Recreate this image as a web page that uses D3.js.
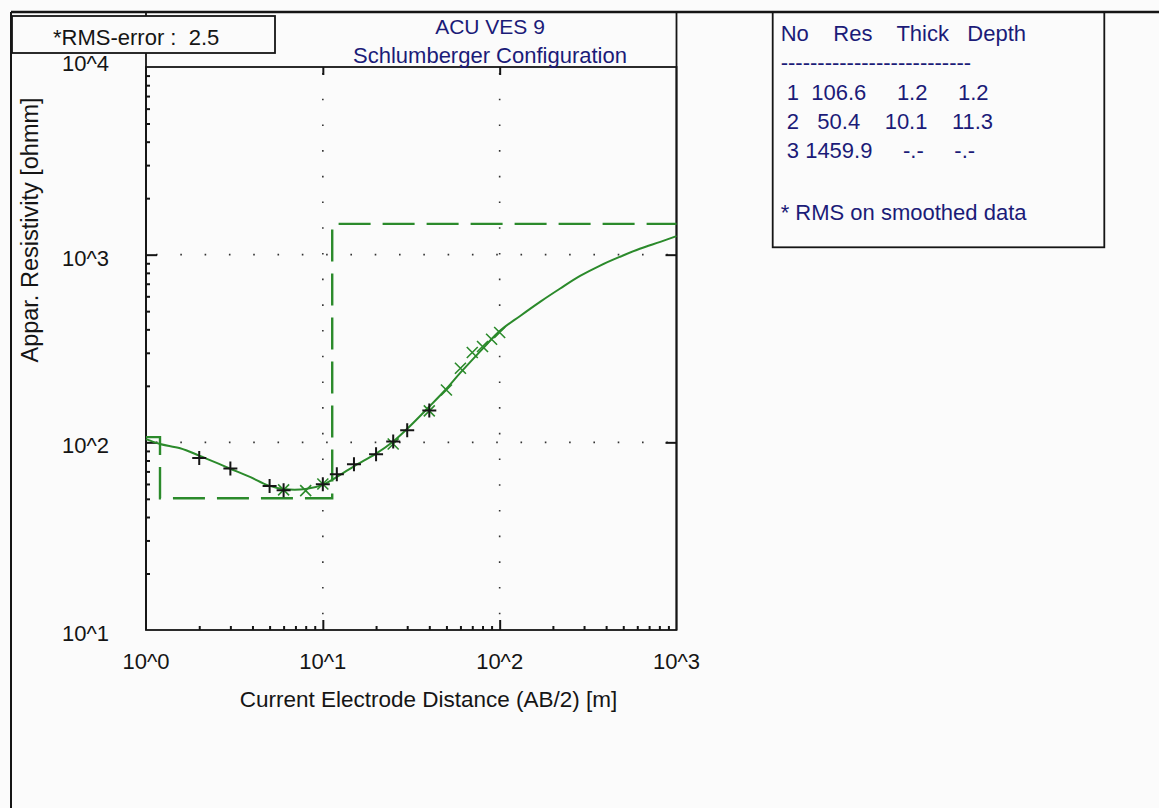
<!DOCTYPE html>
<html>
<head>
<meta charset="utf-8">
<script src="https://cdn.jsdelivr.net/npm/d3@7"></script>
<style>
  html, body { margin: 0; padding: 0; background: #fbfbfb; }
  svg { display: block; font-family: "Liberation Sans", Arial, sans-serif; }
</style>
</head>
<body>
<svg id="chart" width="1159" height="808"></svg>
<script>
// field data: AB/2 [m] and apparent resistivity [ohmm]
const fieldAB = [2, 3, 5, 6, 10, 12, 15, 20, 25, 30, 40];
const fieldRho = [82.4, 72.6, 58.6, 55.6, 59.8, 67.6, 76.5, 86.5, 101, 116, 148];

// smoothed data (green x)
const smoothAB = [6, 8, 10, 25, 40, 50, 60, 70, 80, 90, 100];
const smoothRho = [55.8, 55.3, 60, 98, 147, 190, 248, 301, 324, 354, 385];

// calculated curve
const curveAB = [1, 1.2, 1.56, 2, 2.95, 3.9, 4.9, 6, 8, 10, 11.4, 15, 20, 25, 30, 40, 50, 60, 80, 100, 130, 170, 220, 285, 370, 480, 620, 810, 1000];
const curveRho = [104, 98, 93, 85, 72.8, 65.2, 59, 56.4, 56.4, 59.3, 63.5, 74.5, 87, 101, 118, 155, 193, 235, 315, 392, 470, 562, 660, 770, 875, 975, 1075, 1170, 1255];

// layer model
const layerNo = [1, 2, 3];
const layerRes = [106.6, 50.4, 1459.9];
const layerThick = [1.2, 10.1, null];
const layerDepth = [1.2, 11.3, null];

const xTicks = [1, 10, 100, 1000];
const yTicks = [10, 100, 1000, 10000];
const rmsError = 2.5;

const svg = d3.select('#chart');
const ink = '#151515';
const navy = '#1b1b78';
const green = '#2b8a2b';

const x = d3.scaleLog().domain([1, 1000]).range([146, 676.5]);
const y = d3.scaleLog().domain([10, 10000]).range([630, 67]);

const [x0, x1] = x.range();
const [yb, yt] = y.range();

function minorTicks(decades) {
    return decades.flatMap(d => d3.range(2, 10).map(k => d * k));
}

// outer frame
svg.append('line').attr('x1', 11).attr('x2', 1159).attr('y1', 12).attr('y2', 12)
    .attr('stroke', ink).attr('stroke-width', 2.5);
svg.append('line').attr('x1', 11).attr('x2', 11).attr('y1', 12).attr('y2', 808)
    .attr('stroke', ink).attr('stroke-width', 2);

// separators of title area
[x0, x1].forEach(v => {
    svg.append('line').attr('x1', v).attr('x2', v).attr('y1', 12).attr('y2', yb)
        .attr('stroke', ink).attr('stroke-width', 1.8);
});

// dotted grid
svg.append('g')
    .selectAll('line')
    .data([10, 100])
    .join('line')
    .attr('x1', d => x(d)).attr('x2', d => x(d))
    .attr('y1', yt).attr('y2', yb)
    .attr('stroke', '#333').attr('stroke-width', 1.6)
    .attr('stroke-dasharray', '1.6 24.1')
    .attr('stroke-dashoffset', -6);

svg.append('g')
    .selectAll('line')
    .data([100, 1000])
    .join('line')
    .attr('x1', x0).attr('x2', x1)
    .attr('y1', d => y(d)).attr('y2', d => y(d))
    .attr('stroke', '#333').attr('stroke-width', 1.6)
    .attr('stroke-dasharray', '1.6 22.7')
    .attr('stroke-dashoffset', -10);

// ticks
function tickAxis(axisFn, scale, values, size, transform) {
    svg.append('g')
        .attr('transform', transform)
        .call(axisFn(scale).tickValues(values).tickSize(size).tickFormat(''))
        .call(g => g.select('.domain').remove())
        .selectAll('line')
        .attr('stroke', ink)
        .attr('stroke-width', 2);
}

tickAxis(d3.axisLeft, y, [100, 1000], -11, `translate(${x0},0)`);
tickAxis(d3.axisLeft, y, minorTicks([10, 100, 1000]), -4, `translate(${x0},0)`);
tickAxis(d3.axisRight, y, [100, 1000], -11, `translate(${x1},0)`);
tickAxis(d3.axisBottom, x, [10, 100], -10, `translate(0,${yb})`);
tickAxis(d3.axisBottom, x, minorTicks([1, 10, 100]), -4, `translate(0,${yb})`);
tickAxis(d3.axisTop, x, [10, 100], -8, `translate(0,${yt})`);

// plot frame
svg.append('rect')
    .attr('x', x0).attr('y', yt)
    .attr('width', x1 - x0).attr('height', yb - yt)
    .attr('fill', 'none').attr('stroke', ink).attr('stroke-width', 1.8);

// layer model (dashed step)
const stepPts = [[1, layerRes[0]]];
layerDepth.forEach((d, i) => {
    if (d == null) return;
    stepPts.push([d, layerRes[i]]);
    stepPts.push([d, layerRes[i + 1]]);
});
stepPts.push([1000, layerRes[layerRes.length - 1]]);

svg.append('path')
    .datum(stepPts)
    .attr('d', d3.line().x(d => x(d[0])).y(d => y(d[1])))
    .attr('fill', 'none')
    .attr('stroke', green)
    .attr('stroke-width', 2.4)
    .attr('stroke-dasharray', '32 12');

// calculated curve
const curve = curveAB.map((a, i) => [a, curveRho[i]]);
svg.append('path')
    .datum(curve)
    .attr('d', d3.line().x(d => x(d[0])).y(d => y(d[1])).curve(d3.curveCatmullRom.alpha(0.5)))
    .attr('fill', 'none')
    .attr('stroke', green)
    .attr('stroke-width', 2);

// smoothed data markers
svg.append('g')
    .selectAll('path')
    .data(smoothAB.map((a, i) => [a, smoothRho[i]]))
    .join('path')
    .attr('transform', d => `translate(${x(d[0])},${y(d[1])})`)
    .attr('d', 'M-5.5,-5.5L5.5,5.5M-5.5,5.5L5.5,-5.5')
    .attr('stroke', green)
    .attr('stroke-width', 1.6);

// field data markers
svg.append('g')
    .selectAll('path')
    .data(fieldAB.map((a, i) => [a, fieldRho[i]]))
    .join('path')
    .attr('transform', d => `translate(${x(d[0])},${y(d[1])})`)
    .attr('d', 'M-7,0H7M0,-7V7')
    .attr('stroke', ink)
    .attr('stroke-width', 2);

// tick labels
svg.append('g')
    .selectAll('text')
    .data(xTicks)
    .join('text')
    .attr('x', d => x(d))
    .attr('y', yb + 39)
    .attr('text-anchor', 'middle')
    .attr('font-size', 22)
    .attr('fill', ink)
    .text(d => '10^' + Math.round(Math.log10(d)));

svg.append('g')
    .selectAll('text')
    .data(yTicks)
    .join('text')
    .attr('x', 109)
    .attr('y', d => y(d) + (d === 10000 ? 4 : 11))
    .attr('text-anchor', 'end')
    .attr('font-size', 22)
    .attr('fill', ink)
    .text(d => '10^' + Math.round(Math.log10(d)));

// axis titles
svg.append('text')
    .attr('x', 428.5).attr('y', 707)
    .attr('text-anchor', 'middle')
    .attr('font-size', 22.5)
    .attr('fill', ink)
    .text('Current Electrode Distance (AB/2) [m]');

svg.append('text')
    .attr('transform', 'translate(38,230) rotate(-90)')
    .attr('text-anchor', 'middle')
    .attr('font-size', 23.5)
    .attr('fill', ink)
    .text('Appar. Resistivity [ohmm]');

// title
svg.append('text')
    .attr('x', 490).attr('y', 34)
    .attr('text-anchor', 'middle')
    .attr('font-size', 21)
    .attr('fill', navy)
    .text('ACU VES 9');
svg.append('text')
    .attr('x', 490).attr('y', 63)
    .attr('text-anchor', 'middle')
    .attr('font-size', 22)
    .attr('fill', navy)
    .text('Schlumberger Configuration');

// RMS box
svg.append('rect')
    .attr('x', 12).attr('y', 16)
    .attr('width', 263).attr('height', 37)
    .attr('fill', '#fbfbfb')
    .attr('stroke', ink).attr('stroke-width', 1.8);
svg.append('text')
    .attr('x', 53).attr('y', 45)
    .attr('font-size', 22)
    .attr('fill', ink)
    .style('white-space', 'pre')
    .text(`*RMS-error :  ${rmsError}`);

// layer table
svg.append('rect')
    .attr('x', 772.7).attr('y', 12)
    .attr('width', 331.6).attr('height', 235.3)
    .attr('fill', 'none')
    .attr('stroke', ink).attr('stroke-width', 1.8);

const fmt = v => v == null ? '-.-' : v.toFixed(1);
const tableLines = [
    { text: 'No    Res    Thick   Depth', y: 41 },
    { text: '-'.repeat(26), y: 70 },
    ...layerNo.map((n, i) => ({
        text: ' ' + n + fmt(layerRes[i]).padStart(7) + fmt(layerThick[i]).padStart(8) + fmt(layerDepth[i]).padStart(8),
        y: 100 + i * 29
    })),
    { text: '* RMS on smoothed data', y: 220 }
];

svg.append('g')
    .selectAll('text')
    .data(tableLines)
    .join('text')
    .attr('x', 780.7)
    .attr('y', d => d.y)
    .attr('font-size', 22)
    .attr('fill', navy)
    .style('white-space', 'pre')
    .text(d => d.text);
</script>
</body>
</html>
